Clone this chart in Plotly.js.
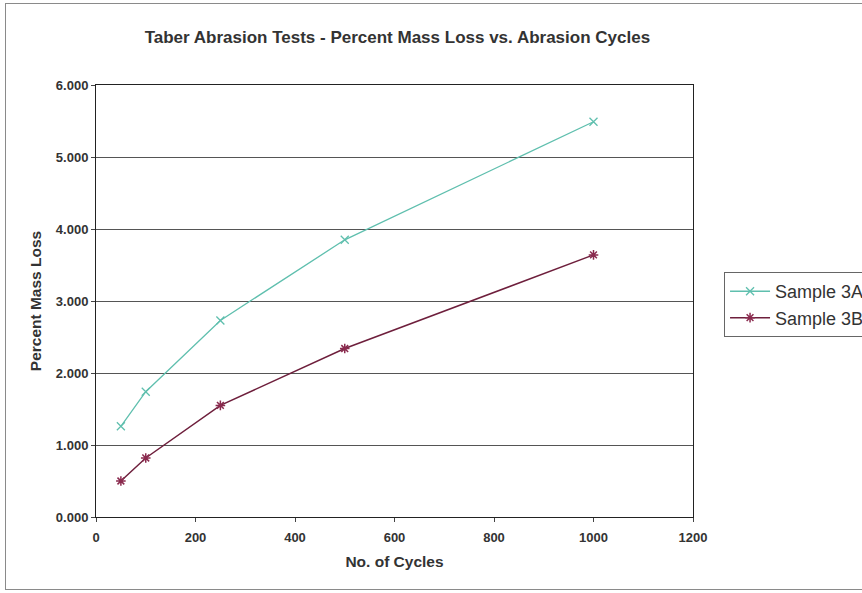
<!DOCTYPE html>
<html>
<head>
<meta charset="utf-8">
<script src="https://cdn.plot.ly/plotly-3.0.1.min.js"></script>
<style>
html,body{margin:0;padding:0;background:#fff;overflow:hidden;}
#frame{position:absolute;left:5px;top:3px;width:900px;height:587px;border:1.5px solid #8a8a8a;border-right:none;box-sizing:border-box;}
#chart{position:absolute;left:0;top:0;width:862px;height:593px;}
</style>
</head>
<body>
<div id="frame"></div>
<div id="chart"></div>
<script>
const cycles = [50, 100, 250, 500, 1000];
const sample3A = [1.26, 1.74, 2.73, 3.85, 5.49];
const sample3B = [0.50, 0.82, 1.55, 2.34, 3.64];
const seriesNames = ["Sample 3A", "Sample 3B"];

const traces = [
  {
    x: cycles, y: sample3A, name: seriesNames[0], type: "scatter", mode: "lines+markers",
    line: {color: "#5fbfae", width: 1.3},
    marker: {symbol: "x-thin-open", size: 8, color: "#5fbfae", line: {color: "#5fbfae", width: 1.3}}
  },
  {
    x: cycles, y: sample3B, name: seriesNames[1], type: "scatter", mode: "lines+markers",
    line: {color: "#6e1f3c", width: 1.5},
    marker: {symbol: "asterisk-open", size: 8, color: "#8a2a4e", line: {color: "#8a2a4e", width: 1.5}}
  }
];

const layout = {
  width: 862, height: 593,
  margin: {l: 96, r: 169, t: 85, b: 76, autoexpand: false},
  paper_bgcolor: "rgba(0,0,0,0)", plot_bgcolor: "#ffffff",
  font: {family: "Liberation Sans, Arial, sans-serif", color: "#222"},
  title: {
    text: "<b>Taber Abrasion Tests - Percent Mass Loss vs. Abrasion Cycles</b>",
    font: {size: 17, color: "#333"},
    x: 0.461, xanchor: "center", y: 0.937, yanchor: "middle"
  },
  xaxis: {
    range: [0, 1200], dtick: 200, tick0: 0,
    showgrid: false, zeroline: false,
    showline: true, linecolor: "#222", linewidth: 1, mirror: true,
    ticks: "outside", ticklen: 4, tickcolor: "#444",
    ticklabelstandoff: 4,
    tickfont: {size: 13, color: "#333", weight: "bold"},
    title: {text: "<b>No. of Cycles</b>", font: {size: 15.5, color: "#333"}, standoff: 12}
  },
  yaxis: {
    range: [0, 6], dtick: 1, tick0: 0, tickformat: ".3f",
    showgrid: true, gridcolor: "#555", gridwidth: 1,
    zeroline: false,
    showline: true, linecolor: "#222", linewidth: 1, mirror: true,
    ticks: "outside", ticklen: 4, tickcolor: "#444",
    tickfont: {size: 13, color: "#333", weight: "bold"},
    title: {text: "<b>Percent Mass Loss</b>", font: {size: 15.5, color: "#333"}, standoff: 10}
  },
  showlegend: true,
  legend: {
    x: 1.052, y: 0.567, xanchor: "left", yanchor: "top",
    bordercolor: "#666", borderwidth: 1, bgcolor: "#ffffff",
    font: {size: 18, color: "#333"},
    tracegroupgap: 0, itemwidth: 40
  }
};

Plotly.newPlot("chart", traces, layout, {displayModeBar: false, staticPlot: true});
</script>
</body>
</html>
